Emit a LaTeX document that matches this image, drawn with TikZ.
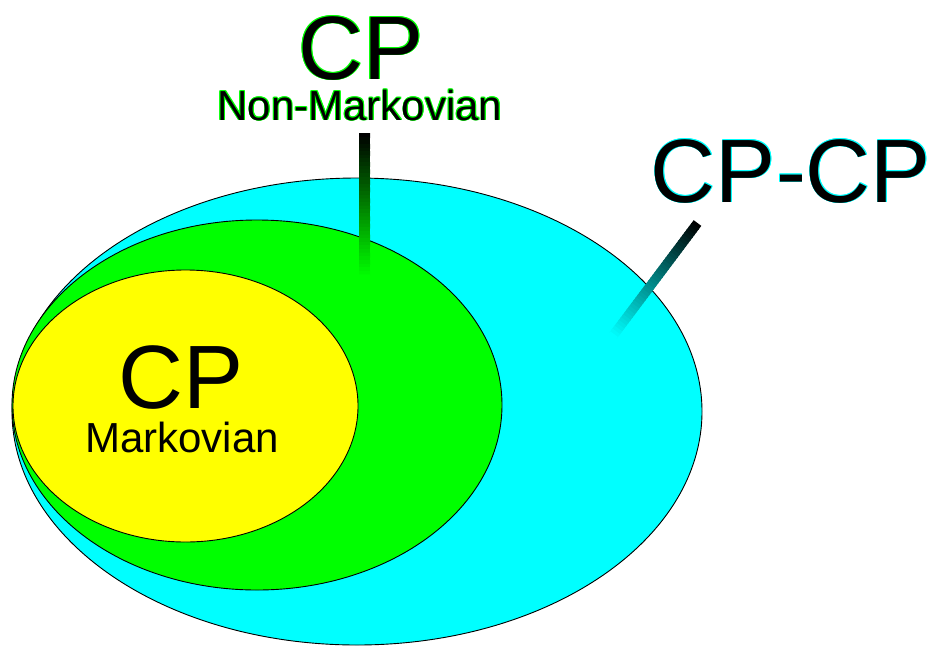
\documentclass[tikz,border=0pt]{standalone}
\usepackage{fontspec}
\setmainfont{Liberation Sans}
\usetikzlibrary{calc,shapes.geometric}
\definecolor{cyanfill}{RGB}{0,255,255}
\definecolor{greenfill}{RGB}{0,255,0}
\definecolor{yellowfill}{RGB}{255,255,0}
\newcommand{\halotext}[2]{%
  \leavevmode
  \rlap{\hspace*{-0.9pt}\textcolor{#1}{#2}}%
  \rlap{\hspace*{0.9pt}\textcolor{#1}{#2}}%
  \rlap{\raisebox{0.9pt}{\textcolor{#1}{#2}}}%
  \rlap{\raisebox{-0.9pt}{\textcolor{#1}{#2}}}%
  \rlap{\hspace*{-0.65pt}\raisebox{0.65pt}{\textcolor{#1}{#2}}}%
  \rlap{\hspace*{0.65pt}\raisebox{0.65pt}{\textcolor{#1}{#2}}}%
  \rlap{\hspace*{-0.65pt}\raisebox{-0.65pt}{\textcolor{#1}{#2}}}%
  \rlap{\hspace*{0.65pt}\raisebox{-0.65pt}{\textcolor{#1}{#2}}}%
  \textcolor{black}{#2}}
\begin{document}
\begin{tikzpicture}[x=1pt,y=-1pt,
  setbox/.style={ellipse, draw=black, line width=0.9pt, inner sep=0pt, outer sep=0pt},
  bigfont/.style={font=\fontsize{90}{90}\selectfont},
  smallfont/.style={font=\fontsize{42}{42}\selectfont},
  txt/.style={inner sep=0pt, anchor=base}]
\useasboundingbox (0,0) rectangle (935,646);
% nested sets
\node[setbox, fill=cyanfill, minimum width=690pt, minimum height=467pt] (cpcp) at (357,411.5) {};
\node[setbox, fill=greenfill, minimum width=490pt, minimum height=370pt] (nonmark) at (257,405) {};
\node[setbox, fill=yellowfill, minimum width=345pt, minimum height=272pt] (mark) at (185.5,406) {};
% labels
\node[txt, bigfont] (cptop) at (361,79) {\halotext{greenfill}{CP}};
\node[txt, smallfont] (nonmarklabel) at (360,120) {\halotext{greenfill}{Non-Markovian}};
\node[txt, bigfont] (cpcplabel) at (791,202) {\halotext{cyanfill}{CP-CP}};
\node[txt, bigfont] (cpmark) at (181,408) {CP};
\node[txt, smallfont] (marklabel) at (182,452) {Markovian};
% leader lines (gradient)
\coordinate (vtop) at (364.5,133);
\coordinate (vbot) at (364.5,278);
\coordinate (dtop) at (697.5,223);
\coordinate (dbot) at (612,337);
\foreach \i in {0,...,39} {
  \pgfmathsetmacro\a{\i/40}
  \pgfmathsetmacro\b{min(1,(\i+1.4)/40)}
  \pgfmathsetmacro\p{100*\i/39}
  \draw[line width=11pt, color=greenfill!\p!black] ($(vtop)!\a!(vbot)$) -- ($(vtop)!\b!(vbot)$);
  \draw[line width=9.5pt, color=cyanfill!\p!black] ($(dtop)!\a!(dbot)$) -- ($(dtop)!\b!(dbot)$);
}
\end{tikzpicture}
\end{document}
